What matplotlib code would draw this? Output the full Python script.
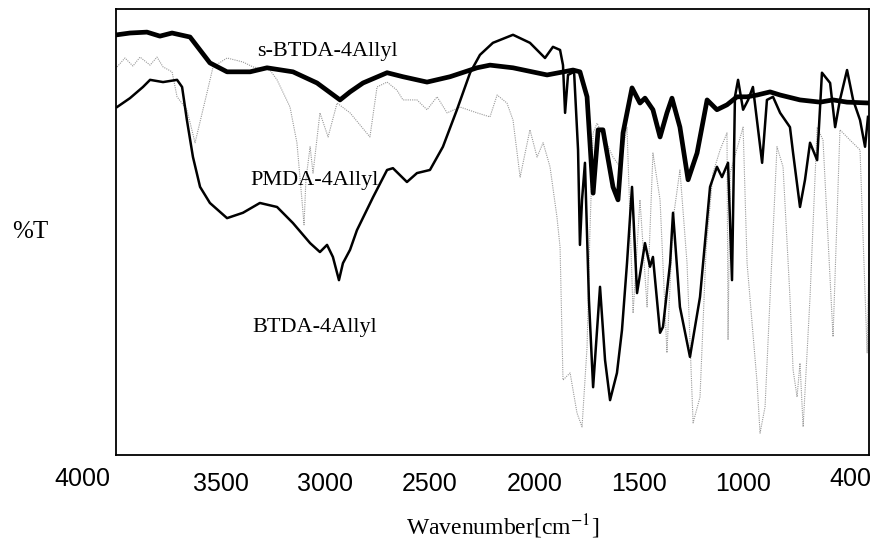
import matplotlib
matplotlib.use("Agg")
import matplotlib.pyplot as plt
import matplotlib.transforms as mtransforms
import numpy as np

plt.rcParams['font.family'] = ['Liberation Serif', 'DejaVu Serif']
plt.rcParams['mathtext.fontset'] = 'stix'

#---------------------------------- data ------------------------------------#
# s-BTDA-4Allyl (thick trace)
sbtda_wn = [3995, 3933, 3852, 3790, 3732, 3646, 3551, 3469, 3359, 3278, 3154,
            3039, 2929, 2881, 2819, 2704, 2628, 2513, 2403, 2274, 2212, 2102,
            1939, 1815, 1782, 1748, 1719, 1695, 1672, 1624, 1600, 1576, 1533,
            1495, 1471, 1433, 1399, 1366, 1342, 1304, 1265, 1222, 1174, 1127,
            1079, 1031, 983, 935, 873, 825, 730, 634, 572, 505, 395]
sbtda_t = [94.2, 94.6, 94.8, 93.9, 94.6, 93.7, 87.9, 85.9, 85.9, 86.8, 85.9,
           83.4, 79.6, 81.4, 83.4, 85.7, 84.8, 83.6, 84.8, 86.8, 87.4, 86.8,
           85.2, 86.3, 85.9, 80.3, 58.7, 72.9, 72.9, 60.1, 57.2, 72.2, 82.3,
           78.9, 80.0, 77.4, 71.3, 76.7, 80.0, 73.5, 61.7, 67.7, 79.6, 77.4,
           78.5, 80.3, 80.3, 80.7, 81.4, 80.7, 79.6, 79.1, 79.6, 79.1, 78.9]

# PMDA-4Allyl (medium trace)
pmda_wn = [3995, 3933, 3871, 3837, 3775, 3708, 3684, 3661, 3632, 3598, 3551,
           3469, 3393, 3312, 3230, 3154, 3072, 3025, 2991, 2963, 2934, 2915,
           2881, 2848, 2771, 2704, 2676, 2609, 2561, 2499, 2437, 2370, 2307,
           2260, 2198, 2102, 2021, 1949, 1911, 1877, 1863, 1853, 1839, 1810,
           1791, 1782, 1772, 1758, 1739, 1719, 1686, 1662, 1638, 1605, 1581,
           1557, 1533, 1509, 1471, 1447, 1433, 1399, 1385, 1351, 1337, 1304,
           1256, 1208, 1160, 1127, 1103, 1074, 1055, 1041, 1026, 1002, 978,
           955, 911, 888, 859, 825, 778, 763, 730, 706, 682, 648, 625, 586,
           562, 539, 505, 476, 443, 419, 405]
pmda_t = [78.0, 80.0, 82.5, 84.1, 83.6, 84.1, 82.5, 75.1, 66.8, 60.1, 56.5,
          53.1, 54.3, 56.5, 55.6, 52.0, 47.5, 45.5, 47.1, 44.4, 39.2, 43.0,
          46.0, 50.4, 57.8, 63.9, 64.3, 61.2, 63.2, 63.9, 69.1, 77.4, 85.7,
          89.7, 92.4, 94.2, 92.4, 89.0, 91.5, 90.8, 87.4, 76.7, 85.2, 85.9,
          68.4, 47.1, 57.2, 65.5, 34.8, 15.2, 37.7, 21.3, 12.3, 18.4, 28.0,
          43.0, 60.1, 36.3, 47.5, 42.2, 44.4, 27.4, 28.7, 43.0, 54.3, 33.2,
          22.0, 35.4, 60.1, 64.6, 62.3, 65.5, 39.2, 80.3, 84.1, 77.4, 79.6,
          82.5, 65.5, 79.6, 80.3, 76.7, 73.5, 67.7, 55.6, 61.7, 70.0, 66.1,
          85.7, 83.4, 73.5, 79.6, 86.3, 79.6, 75.1, 69.1, 75.8]

# BTDA-4Allyl (faint trace)
btda_wn = [3995, 3957, 3919, 3885, 3837, 3804, 3775, 3732, 3708, 3661, 3622,
           3565, 3536, 3469, 3393, 3345, 3264, 3230, 3168, 3135, 3111, 3101,
           3092, 3072, 3058, 3025, 2986, 2943, 2881, 2786, 2752, 2704, 2657,
           2628, 2561, 2513, 2465, 2417, 2355, 2274, 2212, 2178, 2131, 2102,
           2068, 2021, 1987, 1958, 1925, 1892, 1877, 1863, 1829, 1796, 1772,
           1748, 1734, 1719, 1700, 1624, 1590, 1557, 1528, 1495, 1461, 1433,
           1399, 1366, 1337, 1304, 1270, 1241, 1208, 1179, 1146, 1112, 1079,
           1074, 1064, 1002, 983, 935, 921, 897, 873, 840, 811, 778, 763, 744,
           730, 715, 682, 648, 620, 572, 539, 491, 443, 409, 395]
btda_t = [87.0, 89.0, 87.2, 89.2, 87.4, 89.2, 87.0, 85.9, 80.3, 77.4, 70.0,
          81.2, 87.0, 89.0, 88.1, 87.0, 86.3, 84.1, 78.0, 70.0, 57.2, 51.6,
          61.7, 69.1, 63.2, 76.7, 71.3, 78.9, 76.7, 71.3, 82.5, 83.6, 81.8,
          79.6, 79.6, 77.4, 80.3, 76.7, 78.0, 76.7, 75.8, 80.7, 78.9, 75.1,
          62.3, 72.9, 66.8, 70.0, 64.6, 53.4, 46.6, 16.8, 18.4, 9.4, 6.3,
          24.2, 50.4, 72.2, 74.4, 66.8, 64.6, 73.5, 31.8, 57.2, 33.2, 67.7,
          57.2, 22.9, 52.7, 63.9, 43.0, 7.2, 13.0, 46.0, 63.2, 68.4, 72.2,
          25.8, 63.2, 73.5, 43.0, 16.1, 4.9, 10.8, 35.4, 69.1, 64.6, 35.4,
          19.1, 13.0, 20.6, 6.3, 35.4, 73.5, 70.6, 26.5, 72.9, 70.6, 68.4,
          22.9, 57.2]

tick_vals = [3500, 3000, 2500, 2000, 1500, 1000]
tick_text = ['3500', '3000', '2500', '2000', '1500', '1000']
end_text = ['4000', '400']
end_pos = [4160, 490]

#---------------------------------- plot ------------------------------------#
fig = plt.figure(figsize=(8.74, 5.44), dpi=100)
ax = fig.add_axes([0.1327, 0.1636, 0.8616, 0.82])

ax.plot(btda_wn, btda_t, color='0.6', lw=0.8, ls=(0, (1.0, 1.0)))
ax.plot(pmda_wn, pmda_t, color='black', lw=1.8)
ax.plot(sbtda_wn, sbtda_t, color='black', lw=3.4, solid_joinstyle='round')

ax.set_xlim(4000, 400)
ax.set_ylim(0, 100)
ax.set_yticks([])
ax.set_xticks(tick_vals)
ax.set_xticklabels(tick_text, family='Liberation Sans', fontsize=18)
ax.tick_params(axis='x', length=0, pad=12)
for s in ax.spines.values():
    s.set_linewidth(1.3)

trans = mtransforms.blended_transform_factory(ax.transData, ax.transAxes)
for t, p in zip(end_text, end_pos):
    ax.text(p, -0.0275, t, transform=trans, ha='center', va='top',
            family='Liberation Sans', fontsize=18, clip_on=False)

ax.text(2990, 90.5, 's-BTDA-4Allyl', fontsize=16, ha='center', va='center')
ax.text(3050, 61.5, 'PMDA-4Allyl', fontsize=16, ha='center', va='center')
ax.text(3050, 28.5, 'BTDA-4Allyl', fontsize=16, ha='center', va='center')

fig.text(30 / 874, 1 - 232 / 544, '%T', fontsize=18, ha='center', va='center')
fig.text(503 / 874, 1 - 527 / 544, 'Wavenumber[cm$^{-1}$]', fontsize=17,
         ha='center', va='center')

fig.savefig('out.png', dpi=100)
